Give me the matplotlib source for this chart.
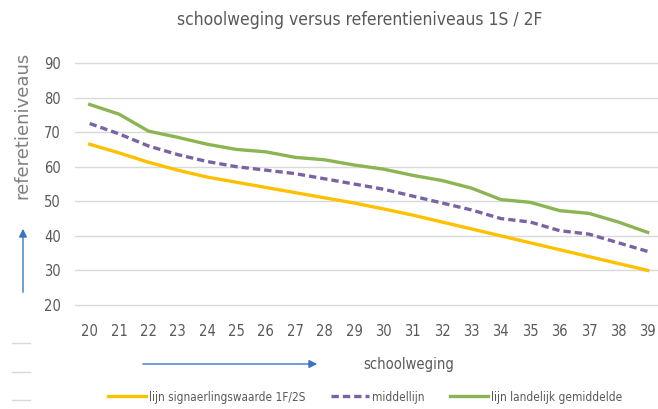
import numpy as np
import matplotlib.pyplot as plt
from matplotlib.patches import FancyArrowPatch

plt.rcParams['font.family'] = ['DejaVu Sans']
plt.rcParams['font.stretch'] = 'condensed'

# data
schoolweging = list(range(20, 40))
signaal = [66.5, 64, 61.3, 59, 57, 55.5, 54, 52.5, 51, 49.5,
           47.8, 46, 44, 42, 40, 38, 36, 34, 32, 30]
middel = [72.5, 69.5, 66, 63.5, 61.5, 60, 59, 58, 56.5, 55,
          53.5, 51.5, 49.5, 47.5, 45, 44, 41.5, 40.5, 38, 35.5]
landelijk = [78, 75.2, 70.3, 68.5, 66.5, 65, 64.3, 62.7, 62, 60.5,
             59.3, 57.5, 56, 53.8, 50.5, 49.7, 47.3, 46.5, 44, 41]
y_ticks = [20, 30, 40, 50, 60, 70, 80, 90]
labels = ['lijn signaerlingswaarde 1F/2S', 'middellijn', 'lijn landelijk gemiddelde']

gray = '#595959'
W, H = 658, 409
fig = plt.figure(figsize=(W / 100, H / 100), dpi=100)

# axes placed in pixel coordinates of the reference
left, right, top, bottom = 75, 658, 63, 305
ax = fig.add_axes([left / W, 1 - bottom / H, (right - left) / W, (bottom - top) / H])

l1, = ax.plot(schoolweging, signaal, color='#FFC000', lw=2.4)
l2, = ax.plot(schoolweging, middel, color='#7B62A3', lw=2.4, ls=(0, (2.2, 1.2)))
l3, = ax.plot(schoolweging, landelijk, color='#8AB552', lw=2.4)

ax.set_ylim(20, 90)
ax.set_xlim(19.5, 19.5 + (right - left) / 29.37)
ax.set_yticks(y_ticks)
ax.set_xticks(schoolweging)
ax.grid(axis='y', color='#D9D9D9', lw=1)
for gl in ax.get_ygridlines():
    gl.set_clip_on(False)
ax.set_axisbelow(True)
for s in ax.spines.values():
    s.set_visible(False)
ax.tick_params(length=0, labelcolor=gray, labelsize=10.5)
ax.tick_params(axis='x', pad=14)
ax.tick_params(axis='y', pad=10)

fig.text(360 / W, 1 - 20 / H, 'schoolweging versus referentieniveaus 1S / 2F',
         ha='center', va='center', fontsize=12.5, color=gray)
fig.text(22 / W, 1 - 125 / H, 'referetieniveaus', rotation=90,
         ha='center', va='center', fontsize=13, color='#7F7F7F',
         fontstretch='normal')
fig.text(409 / W, 1 - 364 / H, 'schoolweging', ha='center', va='center',
         fontsize=10.5, color=gray)

# blue arrows
fig.add_artist(FancyArrowPatch(
    (23 / W, 1 - 295 / H), (23 / W, 1 - 226 / H), transform=fig.transFigure,
    arrowstyle='-|>', mutation_scale=12, color='#3A75C4', lw=1))
fig.add_artist(FancyArrowPatch(
    (140 / W, 1 - 364 / H), (320 / W, 1 - 364 / H), transform=fig.transFigure,
    arrowstyle='-|>', mutation_scale=12, color='#3A75C4', lw=1))

# small gray dashes on the left edge
for yy in [343, 372, 400]:
    fig.add_artist(plt.Line2D([12 / W, 30 / W], [1 - yy / H, 1 - yy / H],
                              color='#D9D9D9', lw=1))

fig.legend([l1, l2, l3], labels,
           loc='center', bbox_to_anchor=(365 / W, 1 - 397 / H), ncol=3, frameon=False,
           fontsize=8.5, labelcolor=gray, handlelength=3.2, handletextpad=0.25,
           columnspacing=2.2, borderpad=0)

fig.savefig('out.png', dpi=100)
